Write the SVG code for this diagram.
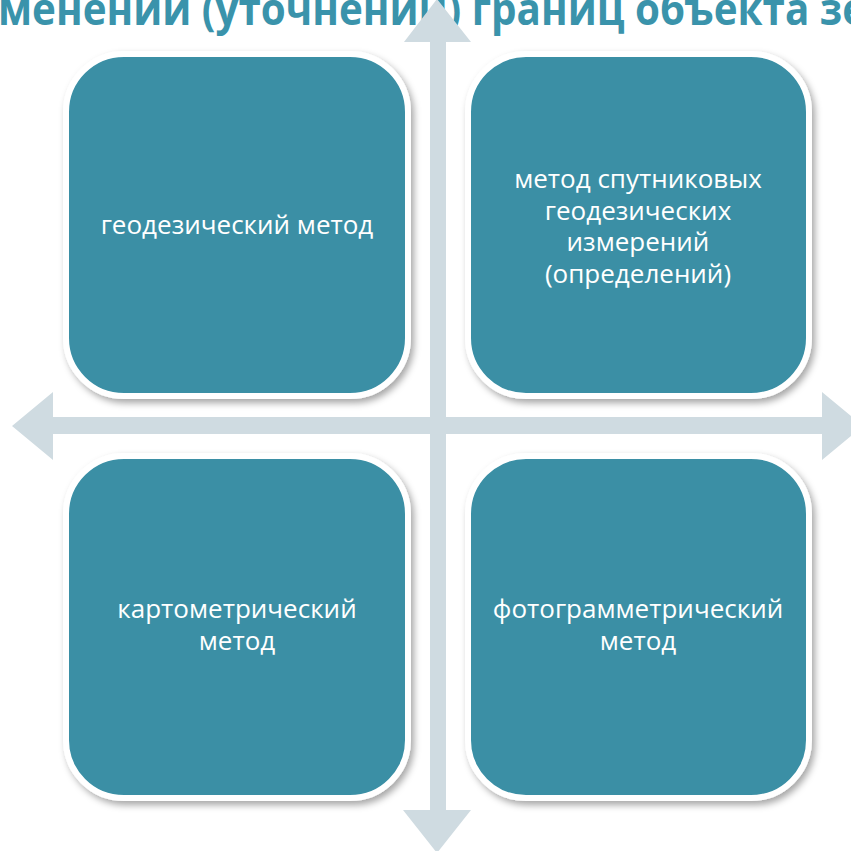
<svg xmlns="http://www.w3.org/2000/svg" width="851" height="851" viewBox="0 0 851 851">
  <defs>
    <filter id="sh" x="-10%" y="-10%" width="130%" height="130%">
      <feDropShadow dx="3" dy="4" stdDeviation="3.5" flood-color="#000" flood-opacity="0.35"/>
    </filter>
    <style>
      .box { fill: #3A8FA5; stroke: #FFFFFF; stroke-width: 6; filter: url(#sh); }
      .lbl { fill: #FFFFFF; font-family: "Open Sans", "Noto Sans", sans-serif; font-size: 26px; text-anchor: middle; }
      .arr { fill: #CFDBE1; }
      .title { fill: #3A93AB; font-family: "Open Sans", "Noto Sans", sans-serif; font-weight: bold; font-size: 44px; }
    </style>
  </defs>
  <rect width="851" height="851" fill="#FFFFFF"/>
  <text class="title" x="-2" y="25" textLength="868" lengthAdjust="spacingAndGlyphs">менений (уточнений) границ объекта зе</text>
  <g id="connectors">
    <path class="arr" d="M430,42 L404,42 L437,-1 L471,42 L446,42 L446,810 L471,810 L437,853 L403,810 L430,810 Z"/>
    <path class="arr" d="M53,417 L53,392 L12,426 L53,460 L53,434 L822,434 L822,460 L863,426 L822,392 L822,417 Z"/>
  </g>
  <g id="n1">
    <rect class="box" x="66" y="54" width="342" height="342" rx="58"/>
    <text class="lbl" x="237" y="234">геодезический метод</text>
  </g>
  <g id="n2">
    <rect class="box" x="468" y="54" width="341" height="342" rx="58"/>
    <text class="lbl" x="638" y="188">метод спутниковых</text>
    <text class="lbl" x="638" y="220">геодезических</text>
    <text class="lbl" x="638" y="251">измерений</text>
    <text class="lbl" x="638" y="283">(определений)</text>
  </g>
  <g id="n3">
    <rect class="box" x="66" y="456" width="342" height="342" rx="58"/>
    <text class="lbl" x="237" y="618">картометрический</text>
    <text class="lbl" x="237" y="650">метод</text>
  </g>
  <g id="n4">
    <rect class="box" x="468" y="456" width="341" height="342" rx="58"/>
    <text class="lbl" x="638" y="618">фотограмметрический</text>
    <text class="lbl" x="638" y="650">метод</text>
  </g>
</svg>
